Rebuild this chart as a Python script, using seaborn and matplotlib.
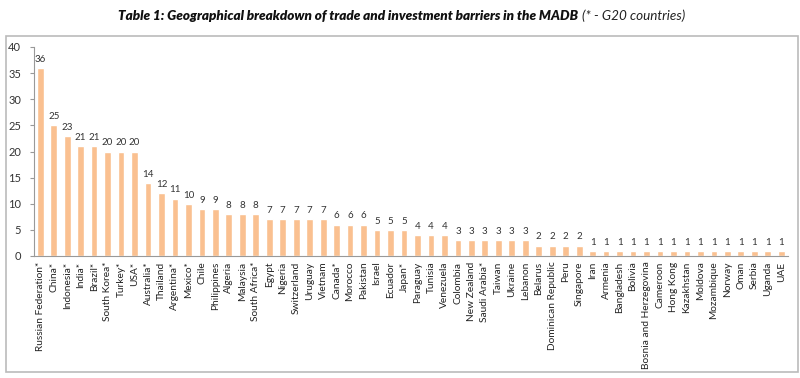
import matplotlib
matplotlib.use("Agg")
import matplotlib.pyplot as plt
import seaborn as sns
import pandas as pd
from matplotlib.patches import Rectangle

countries = ["Russian Federation*", "China*", "Indonesia*", "India*", "Brazil*", "South Korea*",
             "Turkey*", "USA*", "Australia*", "Thailand", "Argentina*", "Mexico*", "Chile",
             "Philippines", "Algeria", "Malaysia", "South Africa*", "Egypt", "Nigeria",
             "Switzerland", "Uruguay", "Vietnam", "Canada*", "Morocco", "Pakistan", "Israel",
             "Ecuador", "Japan*", "Paraguay", "Tunisia", "Venezuela", "Colombia", "New Zealand",
             "Saudi Arabia*", "Taiwan", "Ukraine", "Lebanon", "Belarus", "Dominican Republic",
             "Peru", "Singapore", "Iran", "Armenia", "Bangladesh", "Bolivia",
             "Bosnia and Herzegovina", "Cameroon", "Hong Kong", "Kazakhstan", "Moldova",
             "Mozambique", "Norway", "Oman", "Serbia", "Uganda", "UAE"]
barriers = [36, 25, 23, 21, 21, 20, 20, 20, 14, 12, 11, 10, 9, 9, 8, 8, 8, 7, 7, 7, 7, 7,
            6, 6, 6, 5, 5, 5, 4, 4, 4, 3, 3, 3, 3, 3, 3, 2, 2, 2, 2,
            1, 1, 1, 1, 1, 1, 1, 1, 1, 1, 1, 1, 1, 1, 1]
yticks = [0, 5, 10, 15, 20, 25, 30, 35, 40]

df = pd.DataFrame({"country": countries, "barriers": barriers})

sns.set_style("white")
plt.rcParams["font.family"] = ["Lato", "DejaVu Sans"]

fig = plt.figure(figsize=(8.0, 3.78), dpi=100)
ax = fig.add_axes([33.5 / 800, 1 - 256 / 378, (788 - 33.5) / 800, (256 - 47) / 378])

sns.barplot(data=df, x="country", y="barriers", color="#FAC090", saturation=1,
            width=0.5, ax=ax)

ax.set_ylim(0, 40)
ax.set_xlim(-0.5, len(countries) - 0.5)
ax.set_yticks(yticks)
ax.set_yticklabels([str(v) for v in yticks], fontsize=8, color="#333333")
ax.set_xlabel("")
ax.set_ylabel("")
ax.tick_params(axis="x", labelrotation=90, labelsize=7.3, colors="#222222", length=0, pad=4)
ax.tick_params(axis="y", length=3, width=0.8, color="#999999", left=True, pad=6)
for lab in ax.get_xticklabels():
    lab.set_color("#222222")

for s in ["top", "right"]:
    ax.spines[s].set_visible(False)
for s in ["left", "bottom"]:
    ax.spines[s].set_color("#999999")
    ax.spines[s].set_linewidth(0.8)

for i, v in enumerate(barriers):
    ax.annotate(str(v), (i, v), xytext=(0, 3), textcoords="offset points",
                ha="center", va="bottom", fontsize=7, color="#333333")

# outer frame
fig.patches.append(Rectangle((6 / 800, 1 - 372 / 378), 792 / 800, (372 - 36) / 378,
                             transform=fig.transFigure, fill=False,
                             edgecolor="#BBBBBB", linewidth=1.2))

# title
t1 = fig.text(118 / 800, 1 - 16 / 378,
              "Table 1: Geographical breakdown of trade and investment barriers in the MADB",
              fontsize=9.7, fontweight="heavy", fontstyle="italic", color="#111111",
              ha="left", va="center")
fig.canvas.draw()
bb = t1.get_window_extent()
fig.text(bb.x1 / 800 + 4 / 800, 1 - 16 / 378, "(* - G20 countries)",
         fontsize=9.7, fontstyle="italic", color="#222222", ha="left", va="center")

fig.savefig("out.png", dpi=100, facecolor="white")
